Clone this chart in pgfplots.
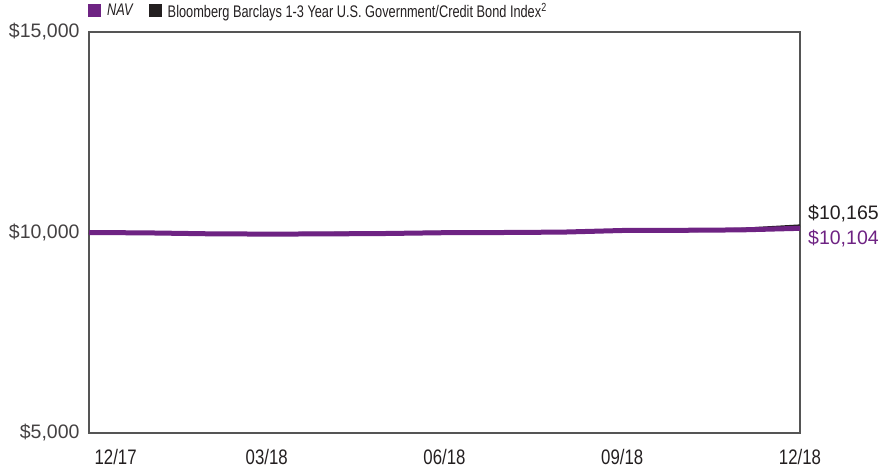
\documentclass[border=0pt]{standalone}
\usepackage{pgfplots}
\pgfplotsset{compat=1.18}
\usepackage{fontspec}
\setmainfont{Liberation Sans}
\newfontfamily\cond[FakeStretch=0.80]{Liberation Sans}
\newfontfamily\condleg[FakeStretch=0.76]{Liberation Sans}
\newfontfamily\condit[FakeStretch=0.76]{Liberation Sans Italic}
\definecolor{navp}{HTML}{6E2383}
\definecolor{idxk}{HTML}{231F20}
\definecolor{axg}{HTML}{555555}
\begin{document}
\begin{tikzpicture}
\useasboundingbox (0,0) rectangle (882pt,472pt);
\begin{axis}[
  at={(89pt,39pt)}, anchor=south west,
  scale only axis, width=711pt, height=401pt,
  xmin=0, xmax=12, ymin=5000, ymax=15000,
  clip=false,
  scaled y ticks=false, scaled x ticks=false,
  axis line style={draw=axg, line width=1.3pt},
  major tick length=0pt,
  xtick={0.45,3,6,9,12},
  xticklabels={12/17,03/18,06/18,09/18,12/18},
  ytick={5000,10000,15000},
  yticklabels={{\$5,000},{\$10,000},{\$15,000}},
  /pgf/number format/assume math mode=true,
  xticklabel style={font=\cond\fontsize{21pt}{24pt}\selectfont, text=idxk, anchor=north, yshift=-13pt},
  yticklabel style={font=\fontsize{19.5pt}{22pt}\selectfont, text=idxk!85, anchor=east, xshift=-6pt},
  legend columns=2,
  legend style={at={(0,1)}, anchor=south west, yshift=9pt, xshift=-4pt, draw=none, fill=none,
    font=\condleg\fontsize{16.8pt}{20pt}\selectfont, text=idxk,
    /tikz/every odd column/.append style={column sep=4pt},
    /tikz/every even column/.append style={column sep=14pt}},
  legend image code/.code={\fill[draw=none] (0pt,-6.5pt) rectangle (13pt,6.5pt);},
]
\addlegendimage{fill=navp, draw=none}
\addlegendentry{\condit NAV}
\addlegendimage{fill=idxk, draw=none}
\addlegendentry{Bloomberg Barclays 1-3 Year U.S. Government/Credit Bond Index\textsuperscript{2}}
\addplot[idxk, line width=3pt, line join=round, forget plot] coordinates {
(0,10000) (1,9985) (2,9965) (3,9968) (4,9980) (5,9990) (6,10005) (7,10010) (8,10020) (9,10030) (10,10038) (11,10080) (12,10165)};
\addplot[navp, line width=5pt, line join=round, forget plot] coordinates {
(0,10000) (1,9990) (2,9968) (3,9960) (4,9965) (5,9975) (6,9995) (7,10000) (8,10010) (9,10050) (10,10055) (11,10065) (12,10104)};
\node[anchor=west, font=\fontsize{19.5pt}{22pt}\selectfont, text=idxk, inner sep=0pt] at (axis cs:12,10470) [xshift=8pt] {\$10,165};
\node[anchor=west, font=\fontsize{19.5pt}{22pt}\selectfont, text=navp, inner sep=0pt] at (axis cs:12,9850) [xshift=8pt] {\$10,104};
\end{axis}
\end{tikzpicture}
\end{document}
